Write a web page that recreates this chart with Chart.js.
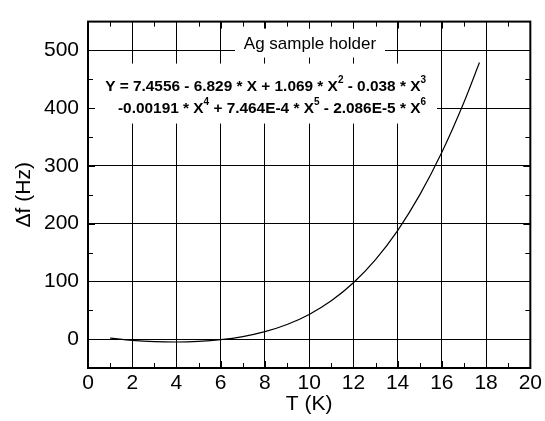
<!DOCTYPE html>
<html>
<head>
<meta charset="utf-8">
<script src="https://cdn.jsdelivr.net/npm/chart.js@4"></script>
<style>
  html, body { margin: 0; padding: 0; background: #fff; }
  #wrap { width: 545px; height: 421px; }
</style>
</head>
<body>
<div id="wrap"><canvas id="chart"></canvas></div>
<script>
// values
const temperature = [1, 2, 3, 4, 5, 6, 7, 8, 9, 10, 11, 12, 13, 14, 15, 16, 17, 17.7];
const deltaF = [1.7, -2.2, -4.4, -5.0, -3.9, -0.9, 4.5, 13, 25.3, 42.8, 66.4, 97.6, 137.7, 188.1, 249.8, 323.7, 410.4, 479];

const xMajorTicks = [0, 2, 4, 6, 8, 10, 12, 14, 16, 18, 20];
const xMinorTicks = [1, 3, 5, 7, 9, 11, 13, 15, 17, 19];
const yMajorTicks = [0, 100, 200, 300, 400, 500];
const yMinorTicks = [50, 150, 250, 350, 450];

const boxLabel = "Ag sample holder";
const fitLine1 = [["Y = 7.4556 - 6.829 * X + 1.069 * X", "2"], [" - 0.038 * X", "3"]];
const fitLine2 = [["-0.00191 * X", "4"], [" + 7.464E-4 * X", "5"], [" - 2.086E-5 * X", "6"]];

const FONT = "'Liberation Sans', Arial, sans-serif";
Chart.defaults.font.family = FONT;
Chart.defaults.color = "#000";

function drawSupLine(ctx, segs, right, baseline) {
  const main = "bold 15.4px " + FONT;
  const sup = "bold 10px " + FONT;
  let total = 0;
  segs.forEach(s => {
    ctx.font = main; total += ctx.measureText(s[0]).width;
    ctx.font = sup; total += ctx.measureText(s[1]).width;
  });
  let x = right - total;
  segs.forEach(s => {
    ctx.font = main; ctx.fillText(s[0], x, baseline); x += ctx.measureText(s[0]).width;
    ctx.font = sup; ctx.fillText(s[1], x, baseline - 8); x += ctx.measureText(s[1]).width;
  });
}

const framePlugin = {
  id: "frame",
  beforeDatasetsDraw(chart) {
    const { ctx, chartArea: a } = chart;
    ctx.save();
    // white label boxes over the grid
    ctx.fillStyle = "#fff";
    ctx.fillRect(a.left + 147, a.top + 7, 150, 29);
    ctx.fillRect(a.left + 5, a.top + 42, 344, 60);

    ctx.fillStyle = "#000";
    ctx.textAlign = "center";
    ctx.textBaseline = "alphabetic";
    ctx.font = "17px " + FONT;
    ctx.fillText(boxLabel, a.left + 222, a.top + 27);

    ctx.textAlign = "left";
    drawSupLine(ctx, fitLine1, a.left + 338, a.top + 69);
    drawSupLine(ctx, fitLine2, a.left + 338, a.top + 91);
    ctx.restore();
  },
  afterDatasetsDraw(chart) {
    const { ctx, chartArea: a, scales } = chart;
    const xs = scales.x, ys = scales.y;
    ctx.save();
    ctx.strokeStyle = "#000";
    ctx.lineWidth = 1;
    ctx.beginPath();
    const xt = (v, len) => {
      const p = Math.round(xs.getPixelForValue(v)) + 0.5;
      ctx.moveTo(p, a.bottom); ctx.lineTo(p, a.bottom - len);
      ctx.moveTo(p, a.top); ctx.lineTo(p, a.top + len);
    };
    const yt = (v, len) => {
      const p = Math.round(ys.getPixelForValue(v)) + 0.5;
      ctx.moveTo(a.left, p); ctx.lineTo(a.left + len, p);
      ctx.moveTo(a.right, p); ctx.lineTo(a.right - len, p);
    };
    xMajorTicks.forEach(v => xt(v, 7));
    xMinorTicks.forEach(v => xt(v, 5));
    yMajorTicks.forEach(v => yt(v, 7));
    yMinorTicks.forEach(v => yt(v, 5));
    ctx.stroke();

    ctx.lineWidth = 2;
    ctx.strokeRect(a.left, a.top, a.right - a.left, a.bottom - a.top);
    ctx.restore();
  }
};

new Chart(document.getElementById("chart"), {
  type: "line",
  data: {
    datasets: [{
      data: temperature.map((t, i) => ({ x: t, y: deltaF[i] })),
      borderColor: "#000",
      borderWidth: 1.2,
      pointRadius: 0,
      fill: false,
      cubicInterpolationMode: "monotone"
    }]
  },
  options: {
    responsive: true,
    maintainAspectRatio: false,
    animation: false,
    layout: { padding: { left: 0, right: 13, top: 11, bottom: 0 } },
    plugins: { legend: { display: false }, tooltip: { enabled: false } },
    scales: {
      x: {
        type: "linear",
        min: 0,
        max: 20,
        afterBuildTicks: s => { s.ticks = xMajorTicks.map(v => ({ value: v })); },
        afterFit: s => { s.height = 53; },
        grid: { color: "#000", lineWidth: 1, drawTicks: false },
        border: { display: false },
        ticks: { font: { size: 21 }, padding: 3, maxRotation: 0, autoSkip: false },
        title: { display: true, text: "T (K)", font: { size: 21 }, padding: { top: 0, bottom: 4 } }
      },
      y: {
        type: "linear",
        min: -50,
        max: 550,
        afterBuildTicks: s => { s.ticks = yMajorTicks.map(v => ({ value: v })); },
        afterFit: s => { s.width = 88; },
        grid: { color: "#000", lineWidth: 1, drawTicks: false },
        border: { display: false },
        ticks: { font: { size: 21 }, padding: 9 },
        title: { display: true, text: "\u0394f (Hz)", font: { size: 21 }, padding: { top: 12, bottom: 0 } }
      }
    }
  },
  plugins: [framePlugin]
});
</script>
</body>
</html>
